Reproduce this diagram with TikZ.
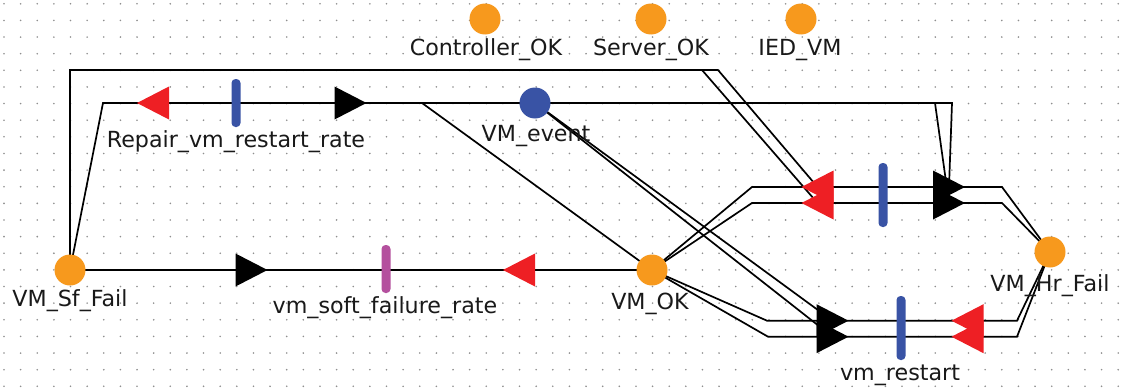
\documentclass[tikz,border=0pt]{standalone}
\usepackage{fontspec}
\setmainfont{DejaVu Sans}
\usetikzlibrary{backgrounds,calc}
\definecolor{placeor}{HTML}{F7991D}
\definecolor{placebl}{HTML}{3953A5}
\definecolor{gatered}{HTML}{EE1F24}
\definecolor{actblue}{HTML}{3953A5}
\definecolor{actpink}{HTML}{B4509E}
\definecolor{dotgray}{HTML}{8F8F8F}
\tikzset{
  place/.style={circle, fill=placeor, minimum size=31pt, inner sep=0pt},
  eplace/.style={circle, fill=placebl, minimum size=31pt, inner sep=0pt},
  lbl/.style={font=\fontsize{22.2}{24}\selectfont, inner sep=0pt, anchor=base, text=black!90},
  arcline/.style={draw=black, line width=1.7pt},
  actbar/.style={rectangle, rounded corners=4pt, minimum width=9pt, inner sep=0pt, fill=actblue},
  redgate/.pic={\fill[gatered] (-16,0) -- (16,-16.5) -- (16,16.5) -- cycle;},
  blackgate/.pic={\fill[black] (16,0) -- (-16,-16.5) -- (-16,16.5) -- cycle;},
}
\begin{document}
\begin{tikzpicture}[x=1pt,y=-1pt]
\useasboundingbox (0,0) rectangle (1130,388);
% places
\node[place] (ctrl) at (485,19) {};
\node[place] (srv) at (651,19) {};
\node[place] (ied) at (801,19) {};
\node[eplace] (vmev) at (535,103) {};
\node[place] (sf) at (70,270) {};
\node[place] (ok) at (652,270) {};
\node[place] (hr) at (1050,252) {};
% labels
\node[lbl] (lctrl) at (486,55) {Controller\_OK};
\node[lbl] (lsrv) at (651,55) {Server\_OK};
\node[lbl] (lied) at (800,55) {IED\_VM};
\node[lbl] (lvmev) at (536,141) {VM\_event};
\node[lbl] (lrep) at (236,147) {Repair\_vm\_restart\_rate};
\node[lbl] (lsf) at (70,306) {VM\_Sf\_Fail};
\node[lbl] (lsoft) at (385,313) {vm\_soft\_failure\_rate};
\node[lbl] (lok) at (650,309) {VM\_OK};
\node[lbl] (lhr) at (1050,291) {VM\_Hr\_Fail};
\node[lbl] (lrestart) at (900,380) {vm\_restart};
% gate positions
\coordinate (rIG) at (153,103);
\coordinate (rOG) at (350.5,103);
\coordinate (sOG) at (251.5,270);
\coordinate (sIG) at (519,270);
\coordinate (uIG1) at (817.5,187);
\coordinate (uIG2) at (817.5,203);
\coordinate (uOG1) at (949,187);
\coordinate (uOG2) at (949,203);
\coordinate (bOG1) at (832.5,320.7);
\coordinate (bOG2) at (832.5,336.7);
\coordinate (bIG1) at (967.5,320.7);
\coordinate (bIG2) at (967.5,336.7);
% activities
\node[actbar, minimum height=48pt] (rep) at (236,103) {};
\node[actbar, fill=actpink, minimum height=48pt] (soft) at (386,269) {};
\node[actbar, minimum height=64pt] (uact) at (883,195) {};
\node[actbar, minimum height=64pt] (restart) at (901,328) {};
% gates
\pic at (rIG) {redgate};
\pic at (rOG) {blackgate};
\pic at (sOG) {blackgate};
\pic at (sIG) {redgate};
\pic at (uIG1) {redgate};
\pic at (uIG2) {redgate};
\pic at (uOG1) {blackgate};
\pic at (uOG2) {blackgate};
\pic at (bOG1) {blackgate};
\pic at (bOG2) {blackgate};
\pic at (bIG1) {redgate};
\pic at (bIG2) {redgate};
\begin{scope}[on background layer]
  \fill[white] (0,0) rectangle (1130,388);
  \foreach \i in {0,...,67}{
    \foreach \j in {0,...,23}{
      \fill[dotgray] (4+16.63*\i, 3.8+16.63*\j) circle (0.9);
    }
  }
  % VM_Sf_Fail to upper input gates
  \draw[arcline] (sf.center) -- (70,70) -- (718,70) -- (uIG1);
  \draw[arcline] (sf.center) -- (70,70) -- (702,70) -- (uIG2);
  % Repair activity
  \draw[arcline] (sf.center) -- (103,103) -- (rIG) -- (rOG);
  \draw[arcline] (rOG) -- (422,103) -- (ok.center);
  \draw[arcline] (rOG) -- (vmev.center);
  % VM_event to output gates
  \draw[arcline] (vmev.center) -- (935,103) -- (uOG2);
  \draw[arcline] (vmev.center) -- (952,103) -- (uOG1);
  \draw[arcline] (vmev.center) -- (bOG1);
  \draw[arcline] (vmev.center) -- (bOG2);
  % upper right activity
  \draw[arcline] (ok.center) -- (752,187) -- (uIG1) -- (uOG1) -- (1002,187) -- (hr.center);
  \draw[arcline] (ok.center) -- (752,203) -- (uIG2) -- (uOG2) -- (1002,203) -- (hr.center);
  % vm_restart
  \draw[arcline] (ok.center) -- (767,320.7) -- (bOG1) -- (bIG1) -- (1017,320.7) -- (hr.center);
  \draw[arcline] (ok.center) -- (768,336.7) -- (bOG2) -- (bIG2) -- (1017,336.7) -- (hr.center);
  % vm_soft_failure_rate
  \draw[arcline] (sf.center) -- (sOG) -- (sIG) -- (ok.center);
\end{scope}
\end{tikzpicture}
\end{document}
